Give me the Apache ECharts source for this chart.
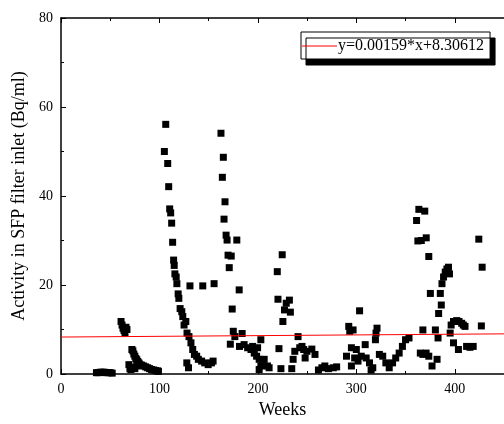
<!DOCTYPE html>
<html><head><meta charset="utf-8">
<script src="https://cdn.jsdelivr.net/npm/echarts@6/dist/echarts.min.js"></script>
<style>html,body{margin:0;padding:0;background:#fff}#c{width:504px;height:424px}</style>
</head><body><div id="c"></div>
<script>
var weeks = [36,38,40,42,44,46,48,50,52,
61,62,63,64,65,66,67,69,70,71,72,73,74,75,76,77,78,79,80,82,84,86,88,90,92,94,96,98,99,73,75,77,
105,106.4,108.4,109.4,110.4,111.4,112.4,113.4,114.4,115,115.7,117,117.7,119,119.7,121,122.7,123.7,125,126.8,128,130,132,133.8,135.5,137.8,139.5,142.8,146,149.5,152.8,154.5,127.8,129.5,131,144,155.5,
162.5,163.9,164.9,166.6,165.6,167.7,168.7,169.7,172.9,170.9,178.6,173.9,181,172,175,176.6,184,181.3,186,189.6,193,196.3,198.7,201.3,203,199.7,194.7,204.7,206.4,209.7,211.4,203,201.3,
219.7,220.4,221.4,223.4,224.7,225.4,227,228.8,232,233,234.4,235.8,237.5,240.8,242.5,244.8,246.5,248,249.8,254.8,258,
261.5,265,268,271.6,276.6,280,
290,292.3,293.3,295,296.7,298.3,301.7,303.3,295,300,305,309,310,313.4,316.7,319.4,321,320,323.4,326.8,330,333.4,336.8,340,343.5,346.8,350,353.5,315,
361.2,363.5,362.5,366,369.5,371,373.6,375.2,367.6,365,367.6,370.9,373.6,376.9,380.3,382,383,383.6,385.3,386.3,387,388.6,390.3,392,393.6,394.6,395.3,396.3,398.7,402,404.3,407,408.7,410.4,398.7,403.7,412,415.4,418.7,424.4,427.8,427];
var activity = [0.3,0.3,0.4,0.4,0.4,0.3,0.3,0.3,0.2,
11.8,11,10.3,9.8,9.2,10.5,10,2.1,1.2,1,5.5,5.2,4.5,4,3.5,3.2,2.8,2.5,2.2,2,1.8,1.6,1.4,1.2,1,0.9,0.8,0.7,0.6,1.5,1.2,1.8,
50,56.1,47.3,42.1,37.1,36.2,33.9,29.6,25.6,24.4,22.5,21.8,20.3,18,17,14.7,14,12.9,11,11.8,9.2,8.4,7,5.5,4.4,4,3.3,2.9,2.5,2.1,2.5,2.9,2.5,1.4,19.8,19.8,20.3,
54.1,44.2,48.7,38.7,34.8,31.2,30.1,26.7,26.5,23.9,30.1,14.6,18.9,6.7,9.6,8.4,9.1,6.2,6.6,5.9,5.5,4.7,4,3.3,7.7,5.9,6.2,2.1,3.3,1.8,1.4,1.8,1,
23,16.8,5.7,1.2,26.8,11.8,14.4,15.9,16.6,13.9,1.2,3.3,5.1,8.4,5.9,6.2,5.5,3.6,5.1,5.6,4.4,
0.9,1.4,1.8,1.2,1.4,1.6,
4,10.7,9.6,5.9,9.9,3.6,2.9,14.2,1.8,5.5,4,6.6,3.6,2.5,1.4,7.7,10.3,9.2,4.4,4,2.5,1.4,2.5,3.6,4.7,6.2,7.7,8.1,0.9,
34.5,37,29.9,30,36.6,30.6,26.4,18.1,9.9,4.7,4.4,4.7,4,1.8,9.9,3.3,8.1,13.6,18.1,15.5,20.3,21.8,22.9,23.6,24,22.5,9.2,11,11.8,12,11.8,11.4,11,10.7,7,5.5,6.2,6,6.2,30.3,24,10.8];
var fitWeeks = [0, 450];
var fitValues = [8.30612, 9.02162];
var fitName = 'y=0.00159*x+8.30612';

var pts = weeks.map(function(w,i){return [w, activity[i]];});
var fit = fitWeeks.map(function(w,i){return [w, fitValues[i]];});
var font = 'Liberation Serif';
var chart = echarts.init(document.getElementById('c'));
var axisCommon = {
  axisLine:{onZero:false, lineStyle:{color:'#000', width:1.5}},
  axisTick:{inside:true, length:5, lineStyle:{color:'#000', width:1}},
  minorTick:{show:true, splitNumber:2, length:3, lineStyle:{color:'#000', width:1}},
  splitLine:{show:false},
  axisLabel:{color:'#000', fontFamily:font, fontSize:14}
};
chart.setOption({
  animation:false,
  backgroundColor:'#fff',
  grid:{left:61, top:18, width:449, height:360},
  xAxis:[
    Object.assign({type:'value', min:0, max:450, interval:100, name:'Weeks', nameLocation:'middle', nameGap:27,
      nameTextStyle:{color:'#000', fontFamily:font, fontSize:18}}, axisCommon,
      {axisLabel:{color:'#000', fontFamily:font, fontSize:14, showMaxLabel:false, margin:8}}),
    Object.assign({type:'value', min:0, max:450, interval:100, position:'top'}, axisCommon, {axisLabel:{show:false}})
  ],
  yAxis:[
    Object.assign({type:'value', min:0, max:80, interval:20, name:'Activity in SFP filter inlet (Bq/ml)', nameLocation:'middle', nameGap:33,
      nameTextStyle:{color:'#000', fontFamily:font, fontSize:18}}, axisCommon)
  ],
  legend:{
    data:[{name:fitName, icon:'rect'}], left:301, top:32, itemWidth:35, itemHeight:1.2, itemGap:0, padding:[6,6,5,1],
    backgroundColor:'#fff', borderColor:'#000', borderWidth:1,
    shadowColor:'#000', shadowOffsetX:5, shadowOffsetY:6, shadowBlur:0,
    textStyle:{color:'#000', fontFamily:font, fontSize:16, padding:[0,0,0,-4]}
  },
  series:[
    {type:'scatter', name:'data', data:pts, symbol:'rect', symbolSize:7, itemStyle:{color:'#000', opacity:1}},
    {type:'line', name:fitName, data:fit, symbol:'none', lineStyle:{color:'#ff0000', width:1}, itemStyle:{color:'#ff0000'}}
  ]
});
</script></body></html>
